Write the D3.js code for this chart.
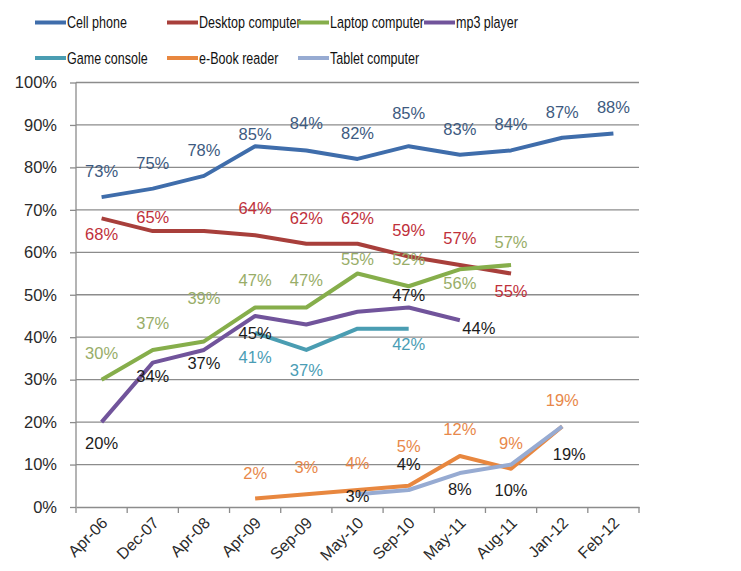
<!DOCTYPE html>
<html>
<head>
<meta charset="utf-8">
<script src="https://cdn.jsdelivr.net/npm/d3@7"></script>
<style>
  body { margin: 0; background: #fff; }
  svg { display: block; font-family: "Liberation Sans", Arial, sans-serif; }
</style>
</head>
<body>
<svg id="chart" width="741" height="571"></svg>
<script>
(function() {
  // {{{ data
  var categories = ["Apr-06", "Dec-07", "Apr-08", "Apr-09", "Sep-09", "May-10",
    "Sep-10", "May-11", "Aug-11", "Jan-12", "Feb-12"];

  var cellPhone   = [73, 75, 78, 85, 84, 82, 85, 83, 84, 87, 88];
  var desktop     = [68, 65, 65, 64, 62, 62, 59, 57, 55, null, null];
  var laptop      = [30, 37, 39, 47, 47, 55, 52, 56, 57, null, null];
  var mp3Player   = [20, 34, 37, 45, 43, 46, 47, 44, null, null, null];
  var gameConsole = [null, null, null, 41, 37, 42, 42, null, null, null, null];
  var eBook       = [null, null, null, 2, 3, 4, 5, 12, 9, 19, null];
  var tablet      = [null, null, null, null, null, 3, 4, 8, 10, 19, null];

  var yTicks = [0, 10, 20, 30, 40, 50, 60, 70, 80, 90, 100];
  // }}}

  // label nudges [dx, dy] from the point, null = no label shown
  var labelNudge = {
    "Cell phone": [[0,-26],[0,-26],[0,-26],[0,-12],[0,-27],[0,-26],[0,-33],[0,-26],[0,-26],[0,-26],[0,-26]],
    "Desktop computer": [[0,16],[0,-14],null,[0,-27],[0,-26],[0,-26],[0,-26],[0,-27],[0,18]],
    "Laptop computer": [[0,-27],[0,-27],[0,-43],[0,-27],[0,-27],[0,-14],[0,-27],[0,14],[0,-23]],
    "mp3 player": [[0,21],[0,13],[0,13],[0,17],null,null,[0,-12],[19,8]],
    "Game console": [null,null,null,[0,24],[0,20],null,[0,15]],
    "e-Book reader": [null,null,null,[0,-25],[0,-27],[0,-27],[0,-40],[0,-27],[0,-26],[0,-26]],
    "Tablet computer": [null,null,null,null,null,[0,2],[0,-26],[0,16],[0,26],[7,28]]
  };

  var series = [
    { name: "Cell phone", values: cellPhone, color: "#3f6dab", text: "#3d5a80" },
    { name: "Desktop computer", values: desktop, color: "#a83f3b", text: "#c0303a" },
    { name: "Laptop computer", values: laptop, color: "#86ae4b", text: "#98ad68" },
    { name: "mp3 player", values: mp3Player, color: "#71549b", text: "#1c1c1c" },
    { name: "Game console", values: gameConsole, color: "#4a9db2", text: "#4a9db5" },
    { name: "e-Book reader", values: eBook, color: "#e8873f", text: "#e8884a" },
    { name: "Tablet computer", values: tablet, color: "#97abd2", text: "#1c1c1c" }
  ];

  var svg = d3.select("#chart");
  var left = 76, right = 639, top = 82.5, bottom = 507;

  var x = d3.scaleBand().domain(categories).range([left, right]).padding(0);
  var y = d3.scaleLinear().domain([0, 100]).range([bottom, top]);
  function cx(c) { return x(c) + x.bandwidth() / 2; }

  // {{{ grid + axes
  svg.append("g")
    .selectAll("line")
    .data(yTicks.filter(function(t) { return t > 0; }))
    .enter().append("line")
      .attr("x1", left).attr("x2", right)
      .attr("y1", function(d) { return y(d); })
      .attr("y2", function(d) { return y(d); })
      .attr("stroke", "#8c8c8c").attr("stroke-width", 1.3);

  var yAxis = svg.append("g")
    .attr("transform", "translate(" + left + ",0)")
    .call(d3.axisLeft(y).tickValues(yTicks).tickSize(6).tickPadding(13)
      .tickFormat(function(d) { return d + "%"; }));
  yAxis.selectAll("path, line").attr("stroke", "#8c8c8c").attr("stroke-width", 1.3);
  yAxis.selectAll("text").attr("fill", "#2a2a2a").style("font-size", "16.5px");
  yAxis.select(".domain").attr("d", "M0," + top + "V" + bottom);

  var xAxis = svg.append("g")
    .attr("transform", "translate(0," + bottom + ")")
    .call(d3.axisBottom(x).tickSize(0).tickPadding(0));
  xAxis.select(".domain").attr("stroke", "#8c8c8c").attr("stroke-width", 1.3);
  xAxis.selectAll("text")
    .attr("fill", "#2a2a2a")
    .style("font-size", "16px")
    .attr("text-anchor", "end")
    .attr("dy", "0")
    .attr("transform", "translate(7,17) rotate(-45)");

  // tick marks sit on the band edges
  var edges = categories.map(function(c) { return x(c); }).concat([right]);
  xAxis.selectAll("line.edge")
    .data(edges)
    .enter().append("line")
      .attr("class", "edge")
      .attr("x1", function(d) { return d; }).attr("x2", function(d) { return d; })
      .attr("y1", 0).attr("y2", 6)
      .attr("stroke", "#8c8c8c").attr("stroke-width", 1.3);
  // }}}

  // {{{ lines
  series.forEach(function(s) {
    var pts = [];
    s.values.forEach(function(v, i) {
      if (v !== null) pts.push({ c: categories[i], v: v, i: i });
    });
    var line = d3.line()
      .x(function(d) { return cx(d.c); })
      .y(function(d) { return y(d.v); });
    svg.append("path")
      .datum(pts)
      .attr("d", line)
      .attr("fill", "none")
      .attr("stroke", s.color)
      .attr("stroke-width", 4)
      .attr("stroke-linejoin", "round");
    s.pts = pts;
  });

  series.forEach(function(s) {
    var nudge = labelNudge[s.name];
    svg.append("g")
      .selectAll("text")
      .data(s.pts.filter(function(d) { return nudge[d.i]; }))
      .enter().append("text")
        .attr("x", function(d) { return cx(d.c) + nudge[d.i][0]; })
        .attr("y", function(d) { return y(d.v) + nudge[d.i][1]; })
        .attr("dy", "0.36em")
        .attr("text-anchor", "middle")
        .attr("fill", s.text)
        .style("font-size", "16.5px")
        .text(function(d) { return d.v + "%"; });
  });
  // }}}

  // {{{ legend
  var legendPos = [[35, 22.5], [167, 22.5], [298, 22.5], [424, 22.5], [35, 58], [167, 58], [298, 58]];
  var legend = svg.append("g").attr("class", "legend")
    .selectAll("g")
    .data(series)
    .enter().append("g")
      .attr("transform", function(d, i) { return "translate(" + legendPos[i][0] + "," + legendPos[i][1] + ")"; });
  legend.append("line")
    .attr("x1", 0).attr("x2", 31)
    .attr("stroke", function(d) { return d.color; })
    .attr("stroke-width", 4);
  // squeeze the text a bit, the original face is narrower than Arial
  legend.append("text")
    .attr("transform", "translate(32,0) scale(0.76,1)")
    .attr("dy", "0.36em")
    .attr("fill", "#111")
    .style("font-size", "16.5px")
    .text(function(d) { return d.name; });
  // }}}
})();
</script>
</body>
</html>
